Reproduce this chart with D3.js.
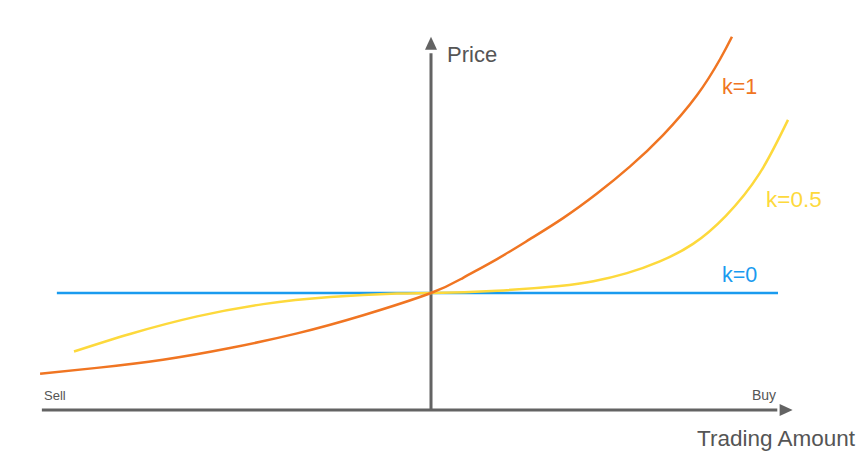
<!DOCTYPE html>
<html><head><meta charset="utf-8">
<script src="https://cdn.jsdelivr.net/npm/d3@7"></script>
<style>body{margin:0;background:#fff}svg{display:block;font-family:"Liberation Sans",Arial,Helvetica,sans-serif}</style>
</head><body><svg id="c" width="866" height="465"></svg>
<script>
// Data (abstract units: x = trading amount, y = price)
const kOneX = [-1.095,-0.936,-0.751,-0.563,-0.375,-0.19,0,0.09,0.185,0.277,0.37,0.465,0.557,0.65,0.745,0.81,0.843];
const kOneY = [0.31,0.36,0.43,0.53,0.655,0.81,1.0,1.13,1.29,1.46,1.64,1.85,2.08,2.35,2.69,3.0,3.19];
const kHalfX = [-1.0,-0.843,-0.655,-0.47,-0.283,-0.095,0,0.185,0.36,0.455,0.549,0.641,0.734,0.826,0.92,1.0];
const kHalfY = [0.50,0.65,0.80,0.905,0.965,0.995,1.0,1.02,1.06,1.10,1.17,1.27,1.42,1.66,2.02,2.48];
const kZeroX = [-1.048,0.972];
const kZeroY = [1.0,1.0];
const seriesNames = ["k=1","k=0.5","k=0"];
const axisLabels = {x:"Trading Amount", y:"Price", left:"Sell", right:"Buy"};

const svg = d3.select("#c");
const x = d3.scaleLinear().domain([0,1]).range([431,788]);
const y = d3.scaleLinear().domain([0,1]).range([410,293]);

const axisColor = "#636363";
svg.append("line").attr("x1",x(-1.09)).attr("x2",x(0.97)).attr("y1",y(0)).attr("y2",y(0))
  .attr("stroke",axisColor).attr("stroke-width",3);
svg.append("line").attr("x1",x(0)).attr("x2",x(0)).attr("y1",y(0)).attr("y2",y(3.05))
  .attr("stroke",axisColor).attr("stroke-width",3);
const hx = x(1.013), hy = y(0);
svg.append("path").attr("d",`M${hx},${hy} L${hx-13},${hy-6} L${hx-13},${hy+6} Z`).attr("fill",axisColor);
const vx = x(0), vy = y(3.19);
svg.append("path").attr("d",`M${vx},${vy} L${vx-6},${vy+13} L${vx+6},${vy+13} Z`).attr("fill",axisColor);

const line = d3.line().x(d=>x(d[0])).y(d=>y(d[1])).curve(d3.curveNatural);
const series = [
  {name:seriesNames[2], xs:kZeroX, ys:kZeroY, color:"#1A9BEF", lx:722, ly:282},
  {name:seriesNames[1], xs:kHalfX, ys:kHalfY, color:"#FDD93C", lx:766, ly:207},
  {name:seriesNames[0], xs:kOneX, ys:kOneY, color:"#F07522", lx:722, ly:94}
];
series.forEach(s=>{
  svg.append("path").datum(s.xs.map((v,i)=>[v,s.ys[i]])).attr("d",line)
    .attr("fill","none").attr("stroke",s.color).attr("stroke-width",2.5);
  svg.append("text").attr("x",s.lx).attr("y",s.ly).attr("fill",s.color)
    .attr("font-size",s.name==="k=0.5"?22.5:21.5).text(s.name);
});

svg.append("text").attr("x",447).attr("y",62).attr("fill","#555").attr("font-size",22).text(axisLabels.y);
svg.append("text").attr("x",697).attr("y",446).attr("fill","#555").attr("font-size",22.5).text(axisLabels.x);
svg.append("text").attr("x",44).attr("y",400).attr("fill","#555").attr("font-size",13).text(axisLabels.left);
svg.append("text").attr("x",752).attr("y",400).attr("fill","#555").attr("font-size",14).text(axisLabels.right);
</script></body></html>
